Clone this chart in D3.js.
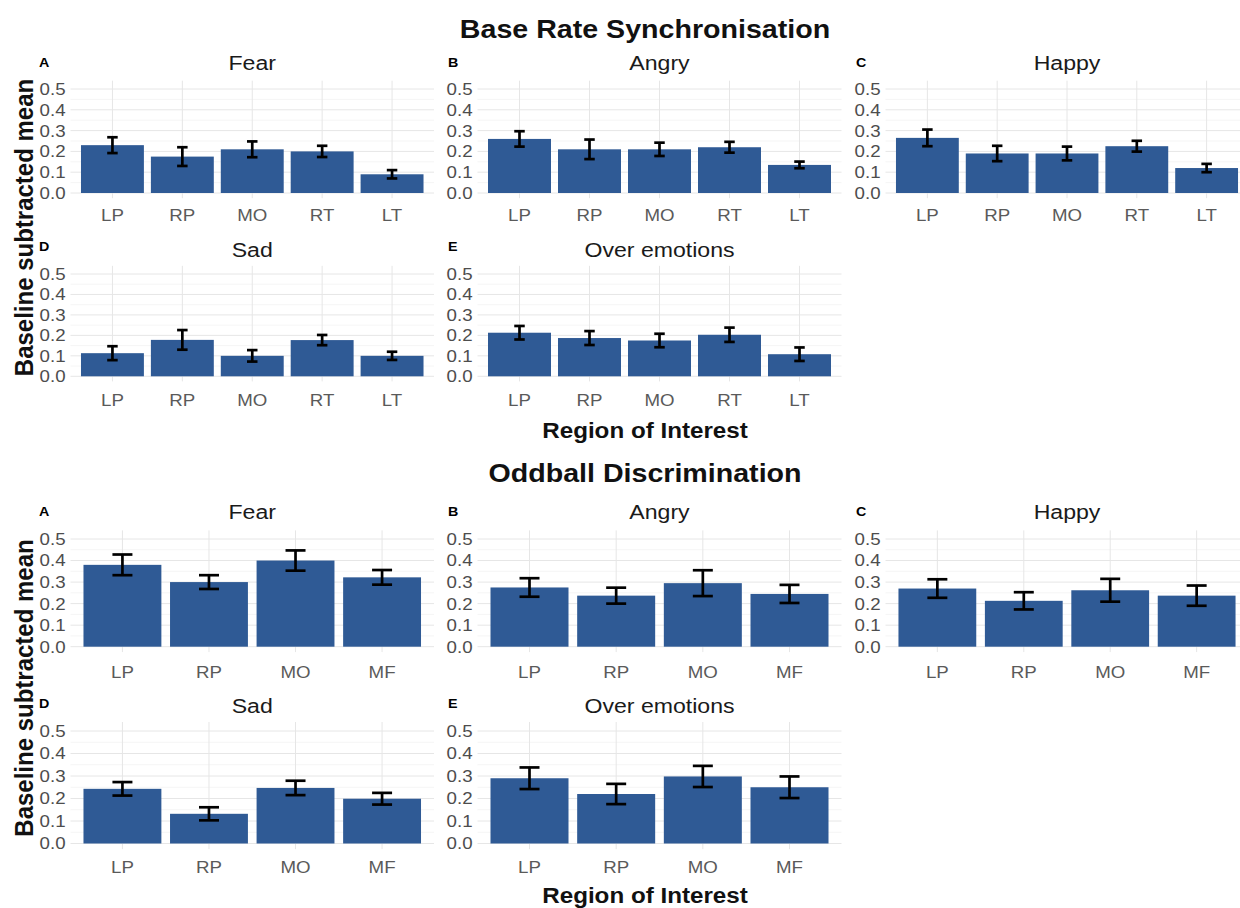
<!DOCTYPE html>
<html><head><meta charset="utf-8">
<script src="https://cdn.jsdelivr.net/npm/d3@7"></script>
<style>
body{margin:0;background:#fff;}
svg text{font-family:"Liberation Sans", Arial, sans-serif;}
</style></head><body>
<svg id="chart" width="1240" height="908"></svg>
<script>
// ---------------- DATA ----------------
const brsRegions = ["LP","RP","MO","RT","LT"];
const oddRegions = ["LP","RP","MO","MF"];
const emotions = ["Fear","Angry","Happy","Sad","Over emotions"];
const panelLetters = ["A","B","C","D","E"];
const yTicks = [0,0.1,0.2,0.3,0.4,0.5];
const sectionTitles = ["Base Rate Synchronisation","Oddball Discrimination"];
const yAxisTitle = "Baseline subtracted mean";
const xAxisTitle = "Region of Interest";

// Base Rate Synchronisation: means and standard errors (LP, RP, MO, RT, LT)
const brsFearMean  = [0.230,0.175,0.210,0.200,0.090];
const brsFearSE    = [0.038,0.045,0.038,0.027,0.020];
const brsAngryMean = [0.260,0.210,0.210,0.220,0.135];
const brsAngrySE   = [0.037,0.047,0.032,0.026,0.016];
const brsHappyMean = [0.265,0.190,0.190,0.225,0.120];
const brsHappySE   = [0.040,0.037,0.033,0.026,0.020];
const brsSadMean   = [0.113,0.178,0.100,0.177,0.100];
const brsSadSE     = [0.034,0.048,0.028,0.025,0.020];
const brsOverMean  = [0.213,0.187,0.175,0.203,0.108];
const brsOverSE    = [0.033,0.034,0.033,0.035,0.033];

// Oddball Discrimination: means and standard errors (LP, RP, MO, MF)
const oddFearMean  = [0.380,0.300,0.400,0.322];
const oddFearSE    = [0.048,0.032,0.047,0.034];
const oddAngryMean = [0.275,0.237,0.295,0.245];
const oddAngrySE   = [0.043,0.037,0.060,0.042];
const oddHappyMean = [0.270,0.213,0.262,0.237];
const oddHappySE   = [0.043,0.040,0.053,0.047];
const oddSadMean   = [0.243,0.132,0.247,0.199];
const oddSadSE     = [0.030,0.029,0.032,0.026];
const oddOverMean  = [0.290,0.220,0.298,0.250];
const oddOverSE    = [0.048,0.045,0.047,0.048];

// ---------------- LAYOUT ----------------
const SX = 1.1;              // horizontal text stretch of the source image
const barColor = "#2F5A95";
const colX = [[70.5,434],[477.5,841.5],[885.5,1248.5]];
const letterX = [39, 448, 856];

const sections = [
  { title: sectionTitles[0], titleY: 38, regions: brsRegions,
    means: [brsFearMean,brsAngryMean,brsHappyMean,brsSadMean,brsOverMean],
    ses:   [brsFearSE,brsAngrySE,brsHappySE,brsSadSE,brsOverSE],
    rows: [{y0:193, y5:89},{y0:376.3, y5:274}],
    capW: 10.5, xLabOff:[28.5,29.4], titleBase:[70,256.5], letterBase:[66.5,251],
    xTitleY: 438, yTitleC: 227.5 },
  { title: sectionTitles[1], titleY: 482, regions: oddRegions,
    means: [oddFearMean,oddAngryMean,oddHappyMean,oddSadMean,oddOverMean],
    ses:   [oddFearSE,oddAngrySE,oddHappySE,oddSadSE,oddOverSE],
    rows: [{y0:646.7, y5:539},{y0:843.5, y5:731}],
    capW: 20, xLabOff:[31.6,29.8], titleBase:[519.3,713.3], letterBase:[516,708],
    xTitleY: 903, yTitleC: 688 }
];

const svg = d3.select("#chart");

function txt(g, str, x, y, o) {
  return g.append("text")
    .attr("transform", `translate(${x},${y}) scale(${SX},1)`)
    .attr("text-anchor", o.anchor || "middle")
    .style("font-size", o.size + "px")
    .style("font-weight", o.weight || "normal")
    .attr("fill", o.fill || "#000")
    .text(str);
}

sections.forEach(sec => {
  const g = svg.append("g");
  txt(g, sec.title, 645, sec.titleY, {size:26, weight:"bold", fill:"#111"});

  emotions.forEach((emo, i) => {
    const row = i < 3 ? 0 : 1;
    const col = i < 3 ? i : i - 3;
    const [x0, x1] = colX[col];
    const r = sec.rows[row];
    const x = d3.scaleBand().domain(sec.regions).range([x0, x1])
      .paddingInner(0.1).paddingOuter(0.15);
    const y = d3.scaleLinear().domain([0, 0.5]).range([r.y0, r.y5]);
    const pTop = y(0.54), pBot = y(-0.025);
    const pg = g.append("g");

    // grid (theme_minimal)
    const minor = d3.range(0.05, 0.5, 0.1);
    pg.selectAll(".minor").data(minor).join("line")
      .attr("x1", x0).attr("x2", x1).attr("y1", d => y(d)).attr("y2", d => y(d))
      .attr("stroke", "#f2f2f2").attr("stroke-width", 0.8);
    pg.selectAll(".major").data(yTicks).join("line")
      .attr("x1", x0).attr("x2", x1).attr("y1", d => y(d)).attr("y2", d => y(d))
      .attr("stroke", "#e6e6e6").attr("stroke-width", 1);
    pg.selectAll(".vgrid").data(sec.regions).join("line")
      .attr("x1", d => x(d) + x.bandwidth()/2).attr("x2", d => x(d) + x.bandwidth()/2)
      .attr("y1", pTop).attr("y2", pBot)
      .attr("stroke", "#e6e6e6").attr("stroke-width", 1);

    // bars
    const means = sec.means[i], ses = sec.ses[i];
    const data = sec.regions.map((k, j) => ({k, m: means[j], se: ses[j]}));
    pg.selectAll(".bar").data(data).join("rect")
      .attr("x", d => x(d.k)).attr("width", x.bandwidth())
      .attr("y", d => y(d.m)).attr("height", d => y(0) - y(d.m))
      .attr("fill", barColor);

    // error bars
    const eb = pg.selectAll(".eb").data(data).join("g")
      .attr("stroke", "#000").attr("stroke-width", 2.7).attr("fill", "none");
    eb.append("line")
      .attr("x1", d => x(d.k) + x.bandwidth()/2).attr("x2", d => x(d.k) + x.bandwidth()/2)
      .attr("y1", d => y(d.m - d.se)).attr("y2", d => y(d.m + d.se));
    eb.append("line")
      .attr("x1", d => x(d.k) + x.bandwidth()/2 - sec.capW/2)
      .attr("x2", d => x(d.k) + x.bandwidth()/2 + sec.capW/2)
      .attr("y1", d => y(d.m + d.se)).attr("y2", d => y(d.m + d.se));
    eb.append("line")
      .attr("x1", d => x(d.k) + x.bandwidth()/2 - sec.capW/2)
      .attr("x2", d => x(d.k) + x.bandwidth()/2 + sec.capW/2)
      .attr("y1", d => y(d.m - d.se)).attr("y2", d => y(d.m - d.se));

    // axes
    const fsTick = 17, fsX = 17;
    const ya = pg.append("g").attr("transform", `translate(${x0},0)`)
      .call(d3.axisLeft(y).tickValues(yTicks).tickFormat(d3.format(".1f")).tickSize(0).tickPadding(4.5));
    ya.select(".domain").remove();
    ya.selectAll("text").attr("transform", `scale(${SX},1)`)
      .style("font-size", fsTick + "px").attr("fill", "#4d4d4d");

    const xa = pg.append("g").attr("transform", `translate(0,${r.y0})`)
      .call(d3.axisBottom(x).tickSize(0).tickPadding(sec.xLabOff[row] - 0.71*fsX));
    xa.select(".domain").remove();
    xa.selectAll("text").attr("transform", `scale(${SX},1)`)
      .style("font-size", fsX + "px").attr("fill", "#5a5a5a");

    // titles
    txt(pg, emo, (x0 + x1)/2, sec.titleBase[row], {size:21, fill:"#1a1a1a"});
    txt(pg, panelLetters[i], letterX[col], sec.letterBase[row], {size:13, weight:"bold", anchor:"start"});
  });

  // axis titles
  txt(g, xAxisTitle, 645, sec.xTitleY, {size:22, weight:"bold", fill:"#111"});
  g.append("text")
    .attr("transform", `translate(33,${sec.yTitleC}) rotate(-90) scale(1,${SX})`)
    .attr("text-anchor", "middle")
    .style("font-size", "24px").style("font-weight", "bold").attr("fill", "#111")
    .text(yAxisTitle);
});
</script>
</body></html>
